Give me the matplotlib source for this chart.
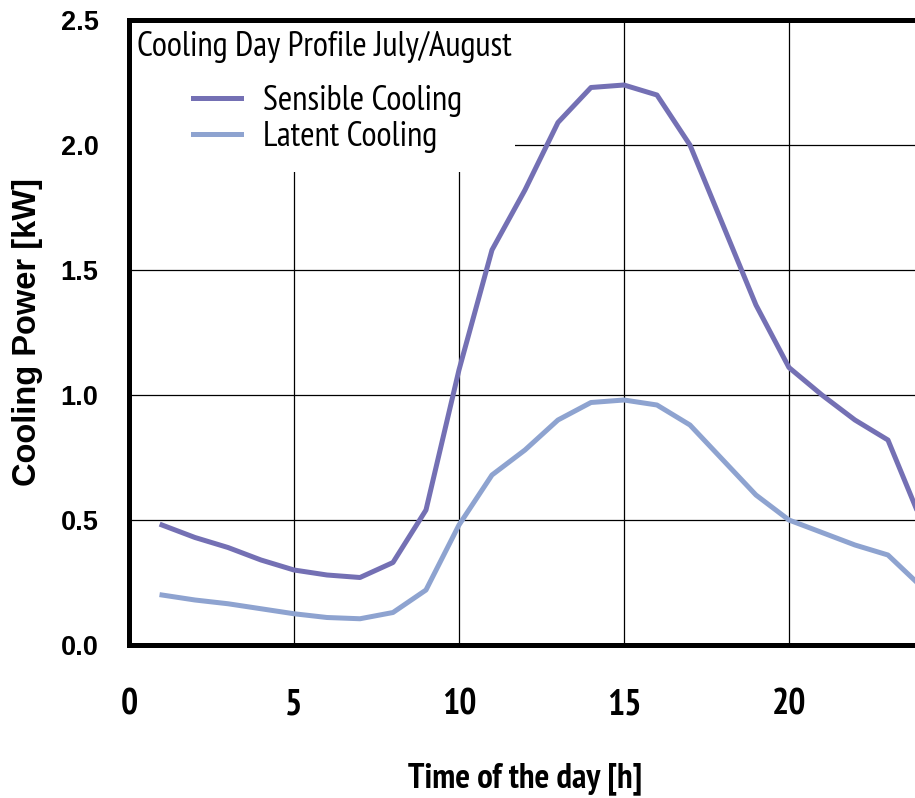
from matplotlib import pyplot as plt
from matplotlib.patches import Rectangle
import matplotlib.font_manager as fm

hours = list(range(1, 25))
sensible = [0.48, 0.43, 0.39, 0.34, 0.30, 0.28, 0.27, 0.33, 0.54, 1.10, 1.58, 1.82,
            2.09, 2.23, 2.24, 2.20, 2.00, 1.68, 1.36, 1.11, 1.00, 0.90, 0.82, 0.50]
latent = [0.20, 0.18, 0.165, 0.145, 0.125, 0.11, 0.105, 0.13, 0.22, 0.48, 0.68, 0.78,
          0.90, 0.97, 0.98, 0.96, 0.88, 0.74, 0.60, 0.50, 0.45, 0.40, 0.36, 0.235]
xticks = [0, 5, 10, 15, 20]
yticks = [0.0, 0.5, 1.0, 1.5, 2.0, 2.5]

# pick a narrow font (the reference uses an Arial Narrow look)
names = {f.name for f in fm.fontManager.ttflist}
narrow, k = 'Liberation Sans', 0.82
for cand in ['Liberation Sans Narrow', 'Arial Narrow', 'PT Sans Narrow', 'Asap Condensed']:
    if cand in names:
        narrow, k = cand, 1.0
        break

fig = plt.figure(figsize=(9.15, 7.98), dpi=100)
ax = fig.add_axes([129 / 915, 153 / 798, 786 / 915, 625 / 798])

ax.plot(hours, sensible, color='#7470b4', lw=3.6, label='Sensible Cooling', zorder=3)
ax.plot(hours, latent, color='#8ea3d0', lw=3.6, label='Latent Cooling', zorder=3)

ax.set_xlim(0, 23.82)
ax.set_ylim(0, 2.5)
ax.set_xticks(xticks)
ax.set_yticks(yticks)
ax.set_yticklabels(['%.1f' % v for v in yticks])
ax.grid(True, color='black', lw=0.9)
ax.set_axisbelow(True)
ax.tick_params(length=0)
ax.tick_params(axis='y', pad=22)
ax.tick_params(axis='x', pad=31)
for lab in ax.get_yticklabels():
    lab.set_fontfamily('Liberation Sans')
    lab.set_fontweight('bold')
    lab.set_fontsize(19.5)
for lab in ax.get_xticklabels():
    lab.set_fontfamily(narrow)
    lab.set_fontweight('bold')
    lab.set_fontsize(26 * k)

for s in ['left', 'bottom', 'top']:
    ax.spines[s].set_linewidth(3.6)
ax.spines['right'].set_visible(False)

# white box behind the legend hides the grid
ax.add_patch(Rectangle((0, 0.757), 0.491, 0.243, transform=ax.transAxes,
                       facecolor='white', edgecolor='none', zorder=1))

ax.text(8 / 786, (645 - 47) / 625, 'Cooling Day Profile July/August', transform=ax.transAxes,
        ha='left', va='center', fontfamily=narrow, fontsize=25 * k, zorder=4)
leg = ax.legend(loc='upper left', bbox_to_anchor=(64 / 786, (645 - 85) / 625), frameon=False,
                prop={'family': narrow, 'size': 25 * k},
                handlelength=1.38 / k, handletextpad=0.63 / k, borderaxespad=0, borderpad=0,
                labelspacing=0.12)

ax.set_ylabel('Cooling Power [kW]', fontfamily='Liberation Sans', fontweight='bold',
              fontsize=23.5)
ax.yaxis.set_label_coords((43 - 129) / 786, 0.5)
ax.set_xlabel('Time of the day [h]', fontfamily=narrow, fontweight='bold',
              fontsize=25 * k)
ax.xaxis.set_label_coords(0.504, (645 - 762) / 625)

fig.savefig('out.png', dpi=100)
